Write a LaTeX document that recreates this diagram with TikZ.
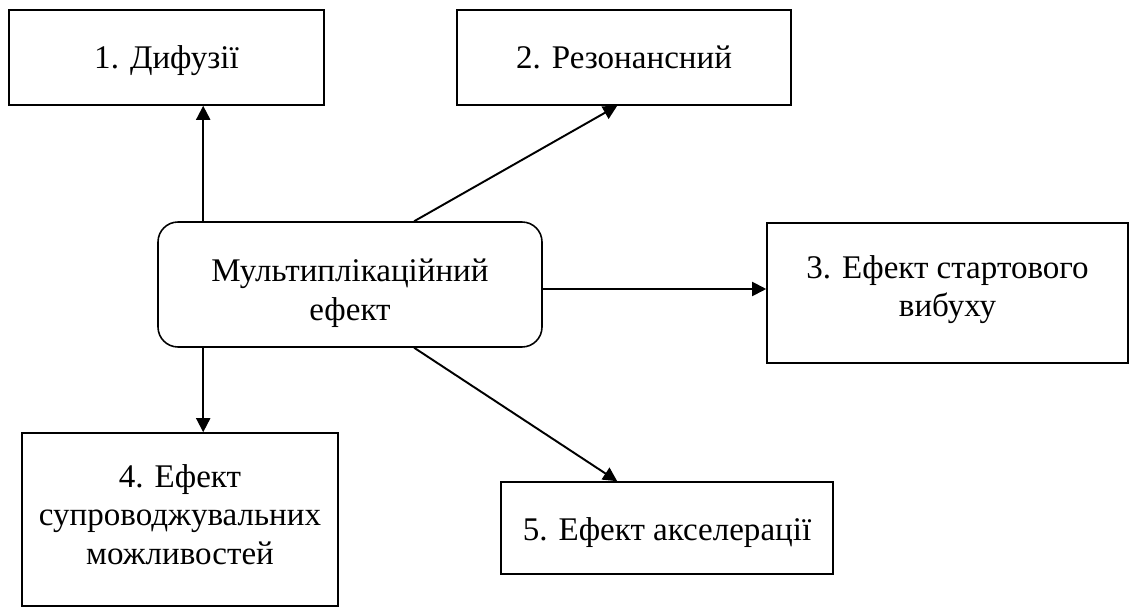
\documentclass[tikz,border=0pt]{standalone}
\usepackage{fontspec}
\setmainfont{Liberation Serif}
\usepackage{tikz}
\usetikzlibrary{arrows.meta,positioning}
\tikzset{
  effbox/.style={draw, line width=0.9pt, align=center, inner sep=2pt, text height=0.6cm, font=\fontsize{18.8}{21.8}\selectfont},
  mainbox/.style={effbox, rounded corners=0.4cm},
  linkarrow/.style={-{Triangle[length=0.28cm,width=0.28cm]}, line width=1.1pt},
}
\begin{document}
\begin{tikzpicture}
  % page frame
  \useasboundingbox (0,0) rectangle (22.72,-12.16);

  % central node
  \node[mainbox, minimum width=7.68cm, minimum height=2.5cm, text height=1.62cm, text depth=0.2cm] (ctr) at (7.0,-5.69) {Мультиплікаційний\\ефект};

  % effects
  \node[effbox, minimum width=6.3cm, minimum height=1.9cm, text depth=0.17cm] (d1) at (3.33,-1.15) {1. Дифузії};
  \node[effbox, minimum width=6.68cm, minimum height=1.9cm, text depth=0.17cm] (d2) at (12.48,-1.15) {2. Резонансний};
  \node[effbox, minimum width=7.22cm, minimum height=2.8cm, text height=1.16cm, text depth=0.2cm] (d3) at (18.95,-5.86) {3. Ефект стартового\\вибуху};
  \node[effbox, minimum width=6.32cm, minimum height=3.46cm, text height=1.98cm, text depth=0.2cm] (d4) at (3.6,-10.39) {4. Ефект\\супроводжувальних\\можливостей};
  \node[effbox, minimum width=6.64cm, minimum height=1.84cm, text depth=0.11cm] (d5) at (13.34,-10.56) {5. Ефект акселерації};

  % links
  \draw[linkarrow] ([xshift=0.92cm]ctr.north west) coordinate (a1) -- (a1 |- d1.south);
  \draw[linkarrow] ([xshift=5.14cm]ctr.north west) -- ([xshift=3.22cm]d2.south west);
  \draw[linkarrow] ([yshift=-0.09cm]ctr.east) coordinate (a3) -- (a3 -| d3.west);
  \draw[linkarrow] ([xshift=0.92cm]ctr.south west) coordinate (a4) -- (a4 |- d4.north);
  \draw[linkarrow] ([xshift=5.14cm]ctr.south west) -- ([xshift=2.34cm]d5.north west);
\end{tikzpicture}
\end{document}
